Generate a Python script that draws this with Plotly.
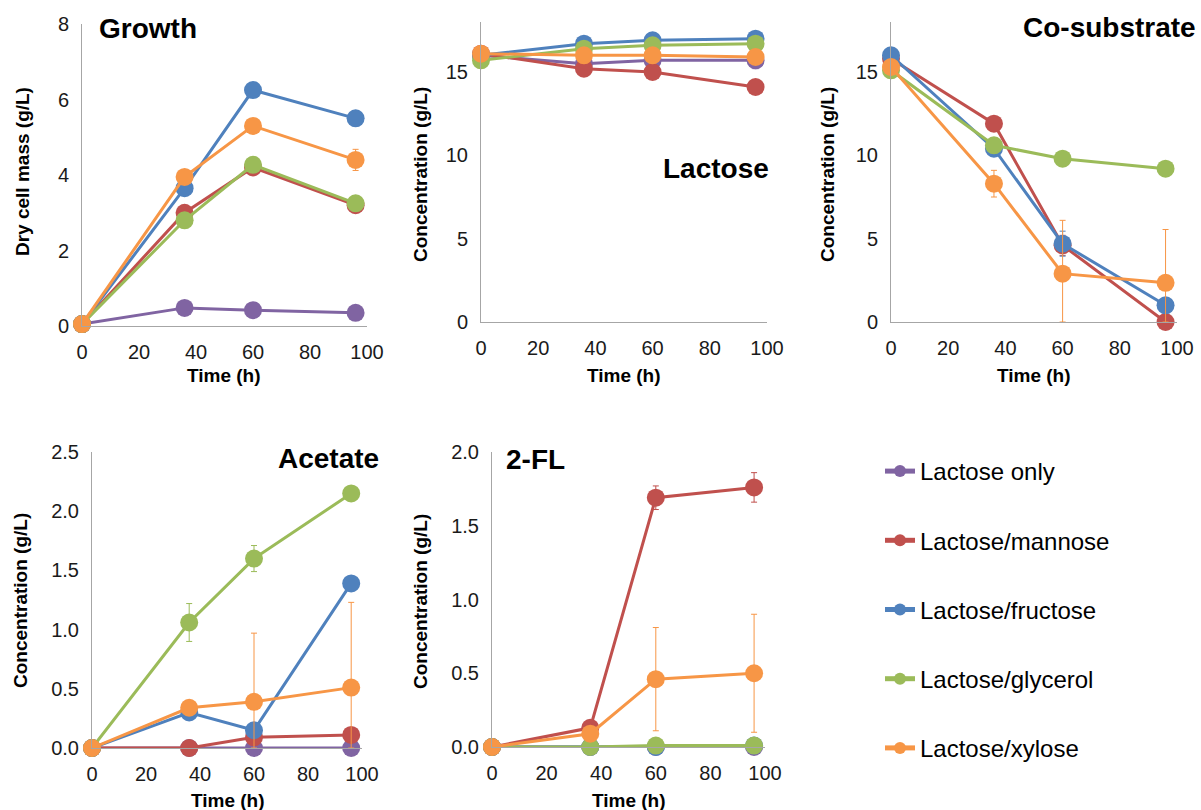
import plotly.graph_objects as go

# Sampling times (h)
time_h = [0, 36, 60, 96]

series_names = ["Lactose only", "Lactose/mannose", "Lactose/fructose",
                "Lactose/glycerol", "Lactose/xylose"]
series_colors = ["#8064A2", "#C0504D", "#4F81BD", "#9BBB59", "#F79646"]

# Dry cell mass (g/L)
growth_only = [0.05, 0.48, 0.42, 0.35]
growth_mannose = [0.05, 3.0, 4.2, 3.2]
growth_fructose = [0.05, 3.65, 6.25, 5.5]
growth_glycerol = [0.05, 2.8, 4.27, 3.25]
growth_xylose = [0.05, 3.95, 5.3, 4.4]
growth_err_mannose = [0.0, 0.2, 0.15, 0.1]
growth_err_glycerol = [0.0, 0.1, 0.2, 0.1]
growth_err_xylose = [0.0, 0.1, 0.1, 0.28]

# Lactose (g/L)
lac_only = [16.0, 15.5, 15.7, 15.7]
lac_mannose = [16.1, 15.2, 15.0, 14.1]
lac_fructose = [16.0, 16.7, 16.9, 17.0]
lac_glycerol = [15.7, 16.4, 16.6, 16.7]
lac_xylose = [16.1, 16.0, 16.0, 15.9]
lac_err_only = [0.0, 0.2, 0.2, 0.5]

# Co-substrate (g/L)
co_mannose = [15.8, 11.9, 4.6, 0.0]
co_fructose = [16.0, 10.4, 4.7, 1.0]
co_glycerol = [15.1, 10.6, 9.8, 9.2]
co_xylose = [15.3, 8.3, 2.9, 2.35]
co_err_mannose = [0.0, 0.3, 0.6, 0.0]
co_err_fructose = [0.0, 0.3, 0.75, 0.2]
co_err_xylose = [0.0, 0.8, 3.2, 3.2]

# Acetate (g/L)
ace_only = [0.0, 0.0, 0.0, 0.0]
ace_mannose = [0.0, 0.0, 0.09, 0.11]
ace_fructose = [0.0, 0.3, 0.15, 1.39]
ace_glycerol = [0.0, 1.06, 1.6, 2.15]
ace_xylose = [0.0, 0.34, 0.39, 0.51]
ace_err_glycerol = [0.0, 0.16, 0.11, 0.0]
ace_err_xylose = [0.0, 0.0, 0.58, 0.72]

# 2-FL (g/L)
fl_only = [0.0, 0.0, 0.0, 0.0]
fl_mannose = [0.0, 0.13, 1.69, 1.76]
fl_fructose = [0.0, 0.0, 0.0, 0.01]
fl_glycerol = [0.0, 0.0, 0.01, 0.01]
fl_xylose = [0.0, 0.09, 0.46, 0.5]
fl_err_mannose = [0.0, 0.0, 0.08, 0.1]
fl_err_xylose = [0.0, 0.0, 0.35, 0.4]

panels = [
    # (values per series, errors per series, y max, y tick step, tick format)
    ([growth_only, growth_mannose, growth_fructose, growth_glycerol, growth_xylose],
     [None, growth_err_mannose, None, growth_err_glycerol, growth_err_xylose], 8, 2, "d"),
    ([lac_only, lac_mannose, lac_fructose, lac_glycerol, lac_xylose],
     [lac_err_only, None, None, None, None], 18, 5, "d"),
    ([None, co_mannose, co_fructose, co_glycerol, co_xylose],
     [None, co_err_mannose, co_err_fructose, None, co_err_xylose], 18, 5, "d"),
    ([ace_only, ace_mannose, ace_fructose, ace_glycerol, ace_xylose],
     [None, None, None, ace_err_glycerol, ace_err_xylose], 2.5, 0.5, ".1f"),
    ([fl_only, fl_mannose, fl_fructose, fl_glycerol, fl_xylose],
     [None, fl_err_mannose, None, None, fl_err_xylose], 2.0, 0.5, ".1f"),
]

W, H = 1201, 810
# plot areas in pixels: (left, right, top, bottom)
boxes = [
    (82, 367, 24, 326),
    (481, 767, 22, 322),
    (891, 1177, 22, 322),
    (92, 362, 452, 748),
    (492, 765, 452, 747),
]

FONT = "Arial, Liberation Sans, sans-serif"
fig = go.Figure()

for p, (vals, errs, ymax, dtick, fmt) in enumerate(panels):
    ax = "" if p == 0 else str(p + 1)
    for s in range(5):
        if vals[s] is None:
            continue
        err = None
        if errs[s] is not None:
            err = dict(type="data", symmetric=False, array=errs[s],
                       arrayminus=[min(e, v) for e, v in zip(errs[s], vals[s])],
                       color=series_colors[s], thickness=1, width=3)
        fig.add_trace(go.Scatter(
            x=time_h, y=vals[s], mode="lines+markers", name=series_names[s],
            legendgroup=series_names[s], showlegend=(p == 0),
            line=dict(color=series_colors[s], width=3),
            marker=dict(color=series_colors[s], size=18),
            error_y=err, cliponaxis=False,
            xaxis="x" + ax, yaxis="y" + ax,
        ))
    l, r, t, b = boxes[p]
    axis_common = dict(showgrid=False, zeroline=False, showline=True,
                       linecolor="#A6A6A6", linewidth=1, ticks="",
                       automargin=False,
                       tickfont=dict(family=FONT, size=20, color="#1a1a1a"),
                       ticklabelstandoff=8)
    fig.layout["xaxis" + ax] = dict(
        domain=[l / W, r / W], range=[0, 100], tick0=0, dtick=20,
        anchor="y" + ax, **axis_common)
    fig.layout["yaxis" + ax] = dict(
        domain=[1 - b / H, 1 - t / H], range=[0, ymax], tick0=0, dtick=dtick,
        tickformat=fmt, anchor="x" + ax, **axis_common)

annotations = []


def note(text, x, y, size, xanchor="center", angle=0):
    annotations.append(dict(
        text=text, x=x / W, y=1 - y / H, xref="paper", yref="paper",
        xanchor=xanchor, yanchor="middle", showarrow=False, textangle=angle,
        font=dict(family=FONT, size=size, color="#000000")))


# panel titles
note("<b>Growth</b>", 97, 29, 28, "left")
note("<b>Lactose</b>", 771, 169, 28, "right")
note("<b>Co-substrate</b>", 1198, 28, 28, "right")
note("<b>Acetate</b>", 381, 458, 28, "right")
note("<b>2-FL</b>", 504, 459, 28, "left")

# axis titles
for cx, cy in [(224, 376), (624, 376), (1034, 376), (228, 800), (629, 800)]:
    note("<b>Time (h)</b>", cx, cy, 19)
note("<b>Dry cell mass (g/L)</b>", 22, 172, 19, angle=-90)
for cx, cy in [(421, 175), (828, 175), (20, 601), (420, 602)]:
    note("<b>Concentration (g/L)</b>", cx, cy, 19, angle=-90)

fig.update_layout(
    width=W, height=H, margin=dict(l=0, r=0, t=0, b=0, autoexpand=False),
    paper_bgcolor="white", plot_bgcolor="white",
    annotations=annotations,
    showlegend=True,
    legend=dict(x=880 / W, y=1 - 449 / H, xanchor="left", yanchor="top",
                font=dict(family=FONT, size=24, color="#000000"),
                itemsizing="constant", traceorder="grouped",
                tracegroupgap=35, bgcolor="rgba(0,0,0,0)"),
)

fig.write_html("out.html")
